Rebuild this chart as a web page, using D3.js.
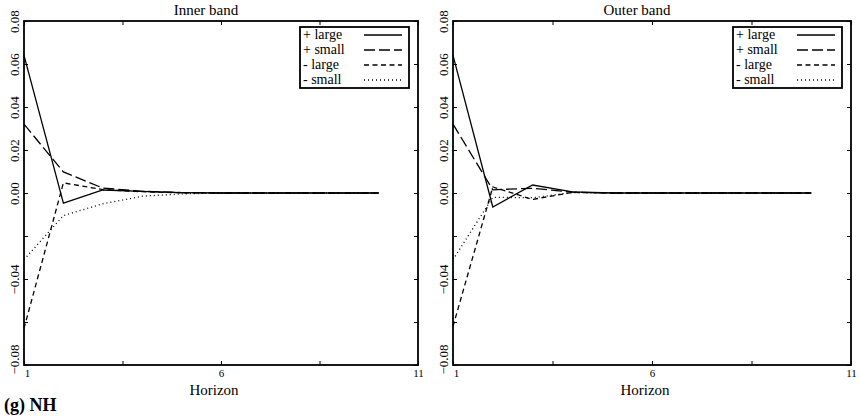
<!DOCTYPE html>
<html>
<head>
<meta charset="utf-8">
<script src="https://cdn.jsdelivr.net/npm/d3@7"></script>
<style>
  body { margin: 0; background: #fff; }
</style>
</head>
<body>
<script>
const w = 861;
const h = 420;
const serif = "Liberation Serif, Times New Roman, serif";

// data
const horizon = [1, 2, 3, 4, 5, 6, 7, 8, 9, 10];
const seriesNames = ["+ large", "+ small", "- large", "- small"];

const innerPlusLarge = [0.064, -0.0047, 0.0014, 0.0008, 0.0002, 0, 0, 0, 0, 0];
const innerPlusSmall = [0.032, 0.0098, 0.0023, 0.0008, 0.0002, 0, 0, 0, 0, 0];
const innerMinusLarge = [-0.063, 0.0047, 0.0016, 0.0006, 0.0001, 0, 0, 0, 0, 0];
const innerMinusSmall = [-0.031, -0.0105, -0.005, -0.0015, -0.0004, 0, 0, 0, 0, 0];

const outerPlusLarge = [0.064, -0.0065, 0.0037, 0.0005, 0, 0, 0, 0, 0, 0];
const outerPlusSmall = [0.032, 0.0015, 0.0022, 0.0004, 0, 0, 0, 0, 0, 0];
const outerMinusLarge = [-0.062, 0.0028, -0.003, 0.0003, 0, 0, 0, 0, 0, 0];
const outerMinusSmall = [-0.031, -0.002, -0.0022, 0.0002, 0, 0, 0, 0, 0, 0];

const xTicks = [1, 3.5, 6, 8.5, 11];
const xTickLabels = { 1: "1", 6: "6", 11: "11" };
const yTicks = [-0.08, -0.06, -0.04, -0.02, 0, 0.02, 0.04, 0.06, 0.08];
const yTickLabels = ["\u22120.08", "", "\u22120.04", "", "0.00", "0.02", "0.04", "0.06", "0.08"];

const dashes = [null, "11,4", "5,3.5", "1,3"];

const svg = d3.select("body").append("svg")
  .attr("width", w).attr("height", h)
  .attr("font-family", serif);

function drawPanel(left, right, title, values) {
  const top = 21, bottom = 365;

  const xScale = d3.scaleLinear().domain([1, 11]).range([left, right]);
  const yScale = d3.scaleLinear().domain([-0.08, 0.08]).range([bottom, top]);

  const g = svg.append("g");

  // inward ticks on all four sides
  g.append("g")
    .attr("transform", "translate(0," + bottom + ")")
    .call(d3.axisBottom(xScale).tickValues(xTicks).tickSize(-4).tickFormat((d) => xTickLabels[d] || ""))
    .call((a) => a.select(".domain").remove())
    .call((a) => a.selectAll("text").attr("y", 2).attr("dy", "0.95em").attr("font-size", 11).attr("font-family", serif)
      .attr("dx", (d) => (d === 1 ? 3 : 0)));
  g.append("g")
    .attr("transform", "translate(0," + top + ")")
    .call(d3.axisTop(xScale).tickValues(xTicks).tickSize(-4).tickFormat(""))
    .call((a) => a.select(".domain").remove());
  const yAxis = g.append("g")
    .attr("transform", "translate(" + left + ",0)")
    .call(d3.axisLeft(yScale).tickValues(yTicks).tickSize(-4).tickFormat((d, i) => yTickLabels[i]))
    .call((a) => a.select(".domain").remove());
  yAxis.selectAll("text")
    .attr("font-size", 13)
    .attr("font-family", serif)
    .attr("x", null).attr("dy", null)
    .attr("text-anchor", (d, i) => (i === 0 ? "start" : "middle"))
    .attr("transform", (d, i) => "translate(-5," + (i === 0 ? 9 : 0) + ") rotate(-90)")
    .attr("y", 0);
  g.append("g")
    .attr("transform", "translate(" + right + ",0)")
    .call(d3.axisRight(yScale).tickValues(yTicks).tickSize(-4).tickFormat(""))
    .call((a) => a.select(".domain").remove());

  // frame
  g.append("rect")
    .attr("x", left).attr("y", top)
    .attr("width", right - left).attr("height", bottom - top)
    .attr("fill", "none").attr("stroke", "#000").attr("stroke-width", 1.8);

  const line = d3.line().x((d, i) => xScale(horizon[i])).y((d) => yScale(d));

  values.forEach((vals, k) => {
    g.append("path")
      .datum(vals)
      .attr("d", line)
      .attr("fill", "none")
      .attr("stroke", "#000")
      .attr("stroke-width", 1.3)
      .attr("stroke-dasharray", dashes[k]);
  });

  // legend
  const lx = right - 118, ly = 27;
  const leg = g.append("g");
  leg.append("rect")
    .attr("x", lx).attr("y", ly).attr("width", 109).attr("height", 61)
    .attr("fill", "#fff").attr("stroke", "#000").attr("stroke-width", 1.8);
  seriesNames.forEach((name, k) => {
    const yy = ly + 8 + k * 15;
    leg.append("text")
      .attr("x", lx + 3).attr("y", yy + 4)
      .attr("font-size", 14)
      .text(name);
    leg.append("line")
      .attr("x1", lx + 64).attr("x2", lx + 102)
      .attr("y1", yy).attr("y2", yy)
      .attr("stroke", "#000").attr("stroke-width", 1.3)
      .attr("stroke-dasharray", dashes[k]);
  });

  g.append("text")
    .attr("x", (left + right) / 2 - 15).attr("y", 15)
    .attr("text-anchor", "middle").attr("font-size", 15)
    .text(title);

  g.append("text")
    .attr("x", xScale(6) - 7).attr("y", 395)
    .attr("text-anchor", "middle").attr("font-size", 15)
    .text("Horizon");
}

drawPanel(24, 418, "Inner band", [innerPlusLarge, innerPlusSmall, innerMinusLarge, innerMinusSmall]);
drawPanel(453, 851, "Outer band", [outerPlusLarge, outerPlusSmall, outerMinusLarge, outerMinusSmall]);

svg.append("text")
  .attr("x", 4).attr("y", 411)
  .attr("font-size", 18).attr("font-weight", "bold")
  .text("(g) NH");
</script>
</body>
</html>
